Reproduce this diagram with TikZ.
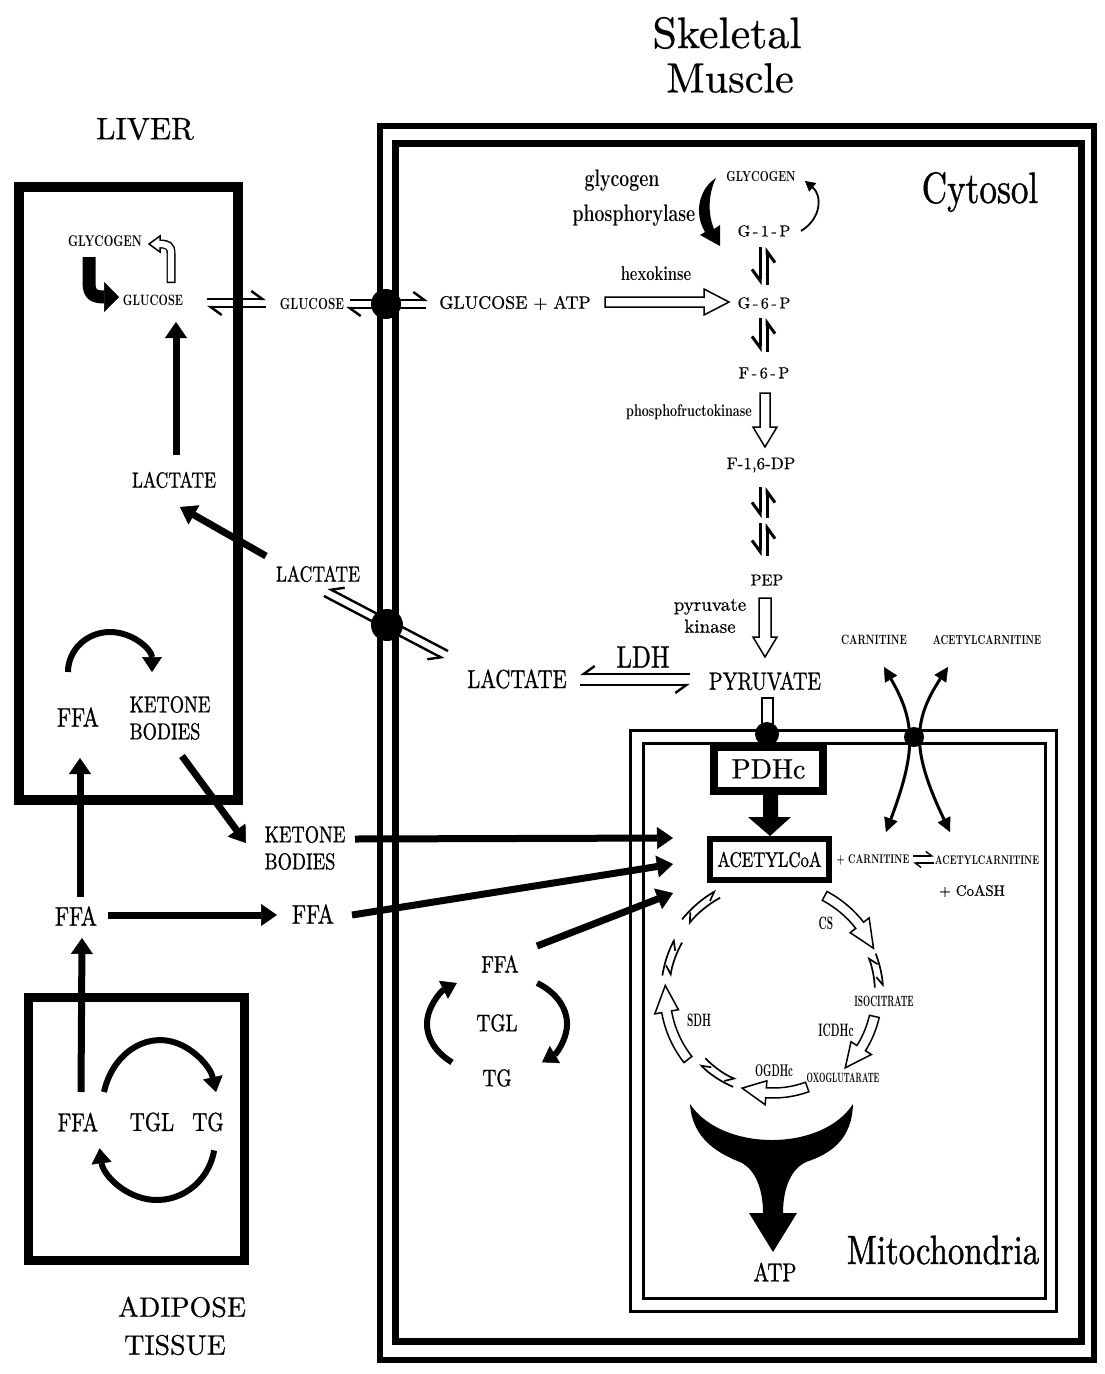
\documentclass[tikz,border=0pt]{standalone}
\usepackage{fontspec}
\setmainfont{lmroman10-regular.otf}[BoldFont=lmroman10-bold.otf,FakeBold=0.6]
\newfontfamily\fc{lmroman10-regular.otf}[FakeStretch=0.8,FakeBold=0.9]
\newfontfamily\fb{lmroman10-bold.otf}[FakeStretch=0.72]
\newfontfamily\fbn{lmroman10-bold.otf}[FakeStretch=0.55]
\usetikzlibrary{arrows.meta,calc}
\newcommand\fz[1]{\fontsize{#1}{#1}\selectfont}
% straight hollow arrow: start, angle, length, half width, head half width, head length
\newcommand\harrow[6]{\begin{scope}[shift={(#1)},rotate=#2]
 \draw[hol] (0,-#4)--({#3-#6},-#4)--({#3-#6},-#5)--(#3,0)--({#3-#6},#5)--({#3-#6},#4)--(0,#4)--cycle;
 \end{scope}}
% curved hollow arrow round (tca): radius, start angle, tip angle, half width, head half width
\newcommand\harc[5]{%
 \pgfmathsetmacro\ro{#1+#4}\pgfmathsetmacro\ri{#1-#4}%
 \pgfmathsetmacro\hro{#1+#5}\pgfmathsetmacro\hri{#1-#5}%
 \pgfmathsetmacro\ab{#3-14}%
 \draw[hol] ($(tca)+(#2:\ro)$) arc[start angle=#2,end angle=\ab,radius=\ro]
   -- ($(tca)+(\ab:\hro)$) -- ($(tca)+(#3:#1)$) -- ($(tca)+(\ab:\hri)$)
   -- ($(tca)+(\ab:\ri)$) arc[start angle=\ab,end angle=#2,radius=\ri] -- cycle;}
% equilibrium pair on the cycle
\newcommand\eqarc[3]{%
 \pgfmathsetmacro\rA{#3+4}\pgfmathsetmacro\rB{#3-4}%
 \draw[hps] ($(tca)+(#1:\rA)$) arc[start angle=#1,end angle=#2,radius=\rA];
 \draw[hps] ($(tca)+(#2:\rB)$) arc[start angle=#2,end angle=#1,radius=\rB];}
\begin{document}
\begin{tikzpicture}[x=1pt,y=-1pt,
  lbl/.style={inner sep=0pt},
  thk/.style={line width=7pt,-{Triangle[length=16pt,width=22pt,line width=0.5pt]}},
  thka/.style={line width=6pt,-{Triangle[length=15pt,width=20pt,line width=0.5pt]}},
  hol/.style={draw=black,fill=white,line width=1.5pt},
  hpl/.style={line width=2.4pt,-{Straight Barb[left,length=11pt,width=16pt]}},
  hpr/.style={line width=2.4pt,-{Straight Barb[right,length=11pt,width=16pt]}},
  hps/.style={line width=1.7pt,-{Straight Barb[right,length=8pt,width=12pt]}},
  hpsl/.style={line width=1.4pt,-{Straight Barb[left,length=6pt,width=9pt]}},
  tr/.style={fill=black}
]
\fill[white] (0,0) rectangle (1104,1374);
\useasboundingbox (0,0) rectangle (1104,1374);

% ---------- compartments ----------
\draw[line width=6pt] (380,126) rectangle (1094,1360);
\draw[line width=7pt] (395,143) rectangle (1081,1341);
\draw[line width=3pt] (630,730) rectangle (1056,1311);
\draw[line width=3pt] (643,743) rectangle (1045,1298);
\draw[line width=10pt] (19,187) rectangle (238,800);
\draw[line width=9pt] (28,997) rectangle (244,1260);

% ---------- titles ----------
\node[lbl,font={\fz{44}}] (skel) at (727,33) {Skeletal};
\node[lbl,font={\fz{42}}] (musc) at (730,78) {Muscle};
\node[lbl,font={\fz{31}}] (liver) at (145,129) {LIVER};
\node[lbl,font={\fc\fz{44}}] (cyto) at (980,192) {Cytosol};
\node[lbl,font={\fc\fz{41}}] (mitol) at (943,1250) {Mitochondria};
\node[lbl,font={\fz{28}}] (adip) at (182,1307) {ADIPOSE};
\node[lbl,font={\fz{28}}] (tiss) at (175,1345) {TISSUE};

% ---------- liver ----------
\node[lbl,font={\fb\fz{15.5}}] (lgly) at (105,241) {GLYCOGEN};
\node[lbl,font={\fb\fz{15}}] (lglu) at (153,300) {GLUCOSE};
\node[lbl,font={\fc\fz{22}}] (llac) at (174,480) {LACTATE};
\node[lbl,font={\fc\fz{27}}] (lffa) at (78,717) {FFA};
\node[lbl,font={\fc\fontsize{23}{27}\selectfont},align=left] (lket) at (170,718) {KETONE\\BODIES};

% ---------- between ----------
\node[lbl,font={\fb\fz{16}}] (mglu) at (312,304) {GLUCOSE};
\node[lbl,font={\fc\fz{22}}] (mlac) at (318,574) {LACTATE};
\node[lbl,font={\fc\fontsize{23}{27}\selectfont},align=left] (mket) at (305,848) {KETONE\\BODIES};
\node[lbl,font={\fc\fz{27}}] (mffa) at (313,914) {FFA};
\node[lbl,font={\fc\fz{27}}] (affa) at (76,916) {FFA};

% ---------- adipose ----------
\node[lbl,font={\fc\fz{26}}] (dffa) at (78,1122) {FFA};
\node[lbl,font={\fc\fz{26}}] (dtgl) at (152,1122) {TGL};
\node[lbl,font={\fc\fz{26}}] (dtg) at (208,1122) {TG};

% ---------- cytosol ----------
\node[lbl,font={\fz{18}}] (gatp) at (515,303) {GLUCOSE + ATP};
\node[lbl,font={\fb\fz{20}}] (hexo) at (656,274) {hexokinse};
\node[lbl,font={\fb\fz{24}}] (gph1) at (622,181) {glycogen};
\node[lbl,font={\fb\fz{24}}] (gph2) at (634,216) {phosphorylase};
\node[lbl,font={\fb\fz{14.5}}] (mgly) at (761,177) {GLYCOGEN};
\node[lbl,font={\fz{16}}] (g1p) at (764,231) {G\,-\,1\,-\,P};
\node[lbl,font={\fz{16}}] (g6p) at (764,303) {G\,-\,6\,-\,P};
\node[lbl,font={\fz{16}}] (f6p) at (764,373) {F\,-\,6\,-\,P};
\node[lbl,font={\fb\fz{17}}] (pfk) at (689,412) {phosphofructokinase};
\node[lbl,font={\fz{17}}] (fdp) at (761,465) {F-1,6-DP};
\node[lbl,font={\fz{16}}] (pep) at (767,580) {PEP};
\node[lbl,font={\fontsize{19}{22}\selectfont},align=center] (pk) at (710,616) {pyruvate\\kinase};
\node[lbl,font={\fc\fz{26}}] (mlac2) at (517,679) {LACTATE};
\node[lbl,font={\fc\fz{31}}] (ldh) at (643,657) {LDH};
\node[lbl,font={\fc\fz{25}}] (pyr) at (765,681) {PYRUVATE};
\node[lbl,font={\fb\fz{13.5}}] (carn) at (874,640) {CARNITINE};
\node[lbl,font={\fb\fz{13}}] (acarn) at (987,640) {ACETYLCARNITINE};
\node[lbl,font={\fc\fz{24}}] (tffa) at (500,964) {FFA};
\node[lbl,font={\fc\fz{24}}] (ttgl) at (497,1023) {TGL};
\node[lbl,font={\fc\fz{24}}] (ttg) at (497,1078) {TG};

% ---------- mitochondria ----------
\node[draw,line width=8pt,minimum width=109pt,minimum height=44pt,inner sep=0pt,font={\fz{28}}] (pdh) at (768.5,769) {PDHc};
\node[draw,line width=6pt,minimum width=119pt,minimum height=41pt,inner sep=0pt,font={\fc\fz{21}}] (acoa) at (769.5,859.5) {ACETYLCoA};
\node[lbl,font={\fb\fz{12.5}}] (pcarn) at (873,860) {+ CARNITINE};
\node[lbl,font={\fb\fz{12.5}}] (acarn2) at (987,860) {ACETYLCARNITINE};
\node[lbl,font={\fz{15}}] (coash) at (972,891) {+ CoASH};
\coordinate (tca) at (773,993);
\node[lbl,font={\fbn\fz{18}}] (cs) at (826,923) {CS};
\node[lbl,font={\fbn\fz{15}}] (iso) at (884,1001) {ISOCITRATE};
\node[lbl,font={\fbn\fz{18}}] (icdh) at (836,1030) {ICDHc};
\node[lbl,font={\fbn\fz{18}}] (sdh) at (699,1020) {SDH};
\node[lbl,font={\fbn\fz{17}}] (ogdh) at (774,1071) {OGDHc};
\node[lbl,font={\fbn\fz{13.5}}] (oxo) at (843,1078) {OXOGLUTARATE};
\node[lbl,font={\fc\fz{26}}] (atp) at (775,1272) {ATP};

% ---------- named connector ends ----------
\coordinate (lgA) at (89,257);   \coordinate (lgB) at (119,297);
\coordinate (luA) at (176,455);  \coordinate (luB) at (176,322);
\coordinate (llA) at (266,556);  \coordinate (llB) at (180,507);
\coordinate (fkA) at (68,672);
\coordinate (kkA) at (182,756);  \coordinate (kkB) at (246,843);
\coordinate (afA) at (80,897);   \coordinate (afB) at (80,758);
\coordinate (adA) at (81,1092);  \coordinate (adB) at (82,938);
\coordinate (ffA) at (108,915);  \coordinate (ffB) at (277,915);
\coordinate (kaA) at (355,839);  \coordinate (kaB) at (673,838);
\coordinate (faA) at (352,915);  \coordinate (faB) at (673,864);
\coordinate (fbA) at (537,946);  \coordinate (fbB) at (673,893);
\coordinate (dA) at (104,1092);  \coordinate (dB) at (214.1,1150.4);
\coordinate (tA) at (537.2,983); \coordinate (tB) at (452,1062.3);

% ---------- liver arrows ----------
\draw[line width=13pt,-{Triangle[length=15pt,width=30pt,line width=0.5pt]}] (lgA) -- (89,283) .. controls (89,295) and (95,297) .. (lgB);
\draw[hol] (160,236) -- (149,244) -- (160,252) -- cycle;
\draw[line width=9pt] (171,283) -- (171,253) .. controls (171,246) and (168,244) .. (160,244);
\draw[line width=6.2pt,white] (171,281.6) -- (171,253) .. controls (171,246) and (168,244) .. (158.5,244);
\draw[thk] (luA) -- (luB);
\draw[thk] (llA) -- (llB);
\draw[thka] (fkA) arc[start angle=180,end angle=360,x radius=42,y radius=40];
\draw[thk] (kkA) -- (kkB);
\draw[thk] (afA) -- (afB);
\draw[thk] (adA) -- (adB);
\draw[thk] (ffA) -- (ffB);
\draw[thka] (dA) arc[start angle=195,end angle=345,x radius=58,y radius=70];
\draw[thka] (dB) arc[start angle=10,end angle=172,x radius=58,y radius=60];

% ---------- fuels into mitochondria ----------
\draw[thk] (kaA) -- (kaB);
\draw[thk] (faA) -- (faB);
\draw[thk] (fbA) -- (fbB);
\draw[thka] (tA) arc[start angle=-55,end angle=50,x radius=70,y radius=50];
\draw[thka] (tB) arc[start angle=130,end angle=235,x radius=70,y radius=50];

% ---------- transporters ----------
\draw[hpl] (207,299) -- (266,299);
\draw[hpl] (266,307) -- (207,307);
\draw[hpl] (350,300) -- (428,300);
\draw[hpl] (426,308) -- (346,308);
\fill[tr] (386,304) circle[radius=15];
\draw[hpr] (448,651) -- (328,588);
\draw[hpr] (324,596) -- (444,659);
\fill[tr] (387,625) circle[radius=16];

% ---------- glycolysis ----------
\fill (716,178) .. controls (700,188) and (693,212) .. (705,232) -- (700,235) -- (720,246) -- (720,225) -- (714,229) .. controls (707,212) and (709,192) .. (716,178) -- cycle;
\draw[line width=1.8pt,-{Triangle[length=10pt,width=11pt,line width=0.5pt]}] (801,231) .. controls (822,218) and (822,195) .. (805,181);
\harrow{605,302}{0}{124}{5}{13}{25}
\harrow{765,393}{-90}{54}{5}{12}{20}
\harrow{765,598}{-90}{59}{6}{12}{20}
\foreach \a/\b in {247/285,318/352,487/518,523/556}{
  \draw[hpr,line width=3pt] (760,\a) -- (760,\b);
  \draw[hpr,line width=3pt] (767,\b) -- (767,\a);}
\draw[hpr] (690,674) -- (580,674);
\draw[hpr] (580,685) -- (690,685);

% ---------- pyruvate entry, PDH ----------
\draw[hol] (762,698) rectangle (773,727);
\fill[tr] (767,734) circle[radius=12];
\fill (763,795) -- (778,795) -- (778,817) -- (791,817) -- (770,836) -- (748,817) -- (763,817) -- cycle;

% ---------- carnitine shuttle ----------
\draw[line width=3pt,{Triangle[length=14pt,width=14pt,line width=0.5pt]}-{Triangle[length=14pt,width=14pt,line width=0.5pt]}] (884,667) .. controls (916,722) and (916,752) .. (886,832);
\draw[line width=3pt,{Triangle[length=14pt,width=14pt,line width=0.5pt]}-{Triangle[length=14pt,width=14pt,line width=0.5pt]}] (948,667) .. controls (912,722) and (912,752) .. (950,832);
\fill[tr] (914,737) circle[radius=10];
\draw[hpsl] (913,856) -- (934,856);
\draw[hpsl] (934,863) -- (913,863);

% ---------- TCA cycle ----------
\harc{110}{-62}{-24}{5}{12}
\harc{104}{13}{46}{5}{12}
\harc{100}{70}{108}{5}{12}
\harc{108}{142}{184}{5}{12}
\eqarc{-21}{-3}{106}
\eqarc{113}{136}{98}
\eqarc{189}{209}{108}
\eqarc{219}{241}{113}

% ---------- ATP ----------
\fill (690,1104) .. controls (722,1152) and (822,1152) .. (853,1104) .. controls (852,1140) and (830,1154) .. (806,1162) .. controls (789,1170) and (783,1192) .. (783,1213) -- (797,1213) -- (773,1252) -- (749,1213) -- (763,1213) .. controls (763,1192) and (757,1170) .. (740,1162) .. controls (714,1152) and (692,1136) .. (690,1104) -- cycle;
\end{tikzpicture}
\end{document}
